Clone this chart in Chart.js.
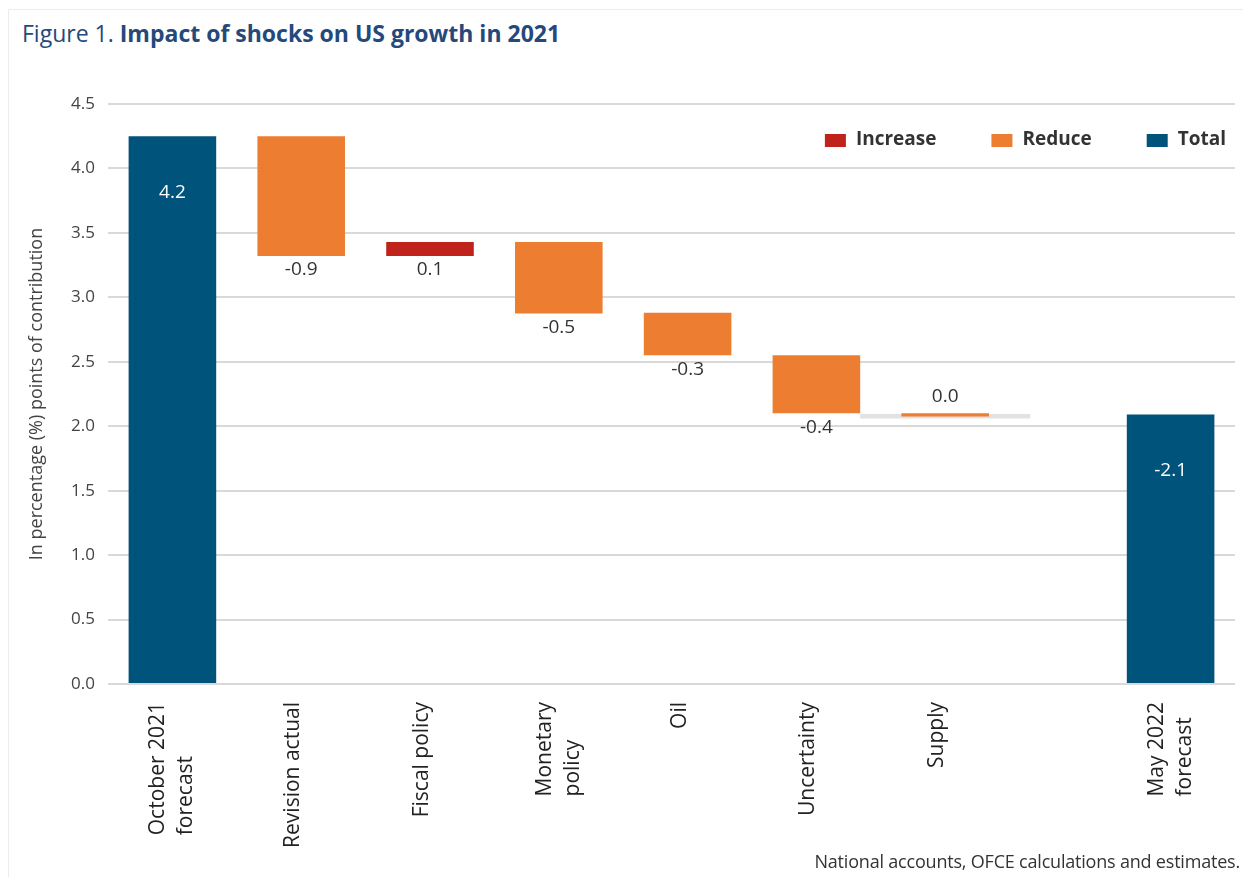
<!DOCTYPE html>
<html><head><meta charset="utf-8">
<script src="https://cdn.jsdelivr.net/npm/chart.js@4.4.1/dist/chart.umd.min.js"></script>
<style>
html,body{margin:0;padding:0;background:#fff;}
#wrap{position:relative;width:1243px;height:877px;overflow:hidden;background:#fff;}
#frame{position:absolute;left:8px;top:9px;width:1240px;height:880px;border:1px solid #ececec;box-sizing:border-box;}
#title{position:absolute;left:22px;top:17px;font-family:"Open Sans";font-size:23px;color:#24497a;white-space:nowrap;}
#title b{font-weight:700}
#source{position:absolute;right:3px;top:849px;font-family:"Open Sans";font-size:18px;color:#333;white-space:nowrap;letter-spacing:-0.2px;}
canvas{position:absolute;left:0;top:0;}
</style></head>
<body><div id="wrap"><div id="frame"></div>
<div id="title">Figure 1. <b>Impact of shocks on US growth in 2021</b></div>
<canvas id="c" width="1243" height="877"></canvas>
<div id="source">National accounts, OFCE calculations and estimates.</div></div>
<script>
const categories = [["October 2021","forecast"],"Revision actual","Fiscal policy",["Monetary","policy"],"Oil","Uncertainty","Supply",["May 2022","forecast"]];
const slots = [0,1,2,3,4,5,6,7.75];
const lows  = [0,    3.32, 3.32, 2.875, 2.55, 2.10, 2.075, 0];
const highs = [4.25, 4.25, 3.43, 3.43,  2.88, 2.55, 2.10,  2.09];
const kinds = ["Total","Reduce","Increase","Reduce","Reduce","Reduce","Reduce","Total"];
const valueLabels = ["4.2","-0.9","0.1","-0.5","-0.3","-0.4","0.0","-2.1"];
const seriesNames = ["Increase","Reduce","Total"];
const seriesColors = {Increase:"#c0231b", Reduce:"#ed7d31", Total:"#00537a"};
const guideSlots = [6];
const guideLows = [2.06];
const guideHighs = [2.095];
const yTickMin = 0, yTickMax = 4.5, yTickStep = 0.5;

const FONT = '"Open Sans", "Noto Sans", sans-serif';

const datasets = seriesNames.map(name => ({
  label: name,
  kind: name,
  data: slots.map((s,i) => kinds[i] === name ? {x:s, y:[lows[i], highs[i]], idx:i} : null).filter(Boolean),
  backgroundColor: seriesColors[name],
  grouped: false, categoryPercentage: 1, barPercentage: 0.68, borderWidth: 0, order: 1
}));
datasets.push({
  label: 'guide',
  data: guideSlots.map((s,k) => ({x:s, y:[guideLows[k], guideHighs[k]]})),
  backgroundColor: '#e2e2e2',
  grouped: false, categoryPercentage: 1, barPercentage: 1.32, borderWidth: 0, order: 10
});

const valuePlugin = {
  id: 'values',
  afterDatasetsDraw(chart) {
    const ctx = chart.ctx;
    chart.data.datasets.forEach((ds, di) => {
      if (!ds.kind) return;
      const meta = chart.getDatasetMeta(di);
      meta.data.forEach((el, j) => {
        const idx = ds.data[j].idx;
        const top = Math.min(el.y, el.base), bottom = Math.max(el.y, el.base);
        ctx.save();
        ctx.font = '19px ' + FONT;
        ctx.textAlign = 'center';
        ctx.textBaseline = 'middle';
        if (kinds[idx] === 'Total') {
          ctx.fillStyle = '#ffffff';
          ctx.fillText(valueLabels[idx], el.x, top + 56);
        } else if (Math.abs(highs[idx] - lows[idx]) < 0.05) {
          ctx.fillStyle = '#333';
          ctx.fillText(valueLabels[idx], el.x, top - 17);
        } else {
          ctx.fillStyle = '#333';
          ctx.fillText(valueLabels[idx], el.x, bottom + 14);
        }
        ctx.restore();
      });
    });
  }
};

const legendPlugin = {
  id: 'customLegend',
  afterDraw(chart) {
    const ctx = chart.ctx;
    const area = chart.chartArea;
    ctx.save();
    ctx.font = 'bold 19px ' + FONT;
    ctx.textBaseline = 'middle';
    ctx.textAlign = 'left';
    let x = area.right - 9;
    const yc = area.top + 36;
    for (let k = seriesNames.length - 1; k >= 0; k--) {
      const name = seriesNames[k];
      const w = ctx.measureText(name).width;
      x -= w;
      ctx.fillStyle = '#333';
      ctx.fillText(name, x, yc);
      x -= 10;
      ctx.fillStyle = seriesColors[name];
      ctx.fillRect(x - 21, yc - 6, 21, 13);
      x -= 21 + 55;
    }
    ctx.restore();
  }
};

const xLabelPlugin = {
  id: 'xLabels',
  afterDraw(chart) {
    const xs = chart.scales.x;
    const ctx = chart.ctx;
    const topY = chart.chartArea.bottom + 18;
    const lh = 28;
    ctx.save();
    ctx.font = '21px ' + FONT;
    ctx.fillStyle = '#222';
    ctx.textBaseline = 'middle';
    ctx.textAlign = 'left';
    categories.forEach((lab, i) => {
      const lines = Array.isArray(lab) ? lab : [lab];
      const px = xs.getPixelForValue(slots[i]) + (lines.length === 1 ? -8 : 0);
      const maxW = Math.max(...lines.map(l => ctx.measureText(l).width));
      lines.forEach((l, k) => {
        const cx = px + (k - (lines.length - 1) / 2) * lh;
        ctx.save();
        ctx.translate(cx, topY + maxW);
        ctx.rotate(-Math.PI / 2);
        ctx.fillText(l, 0, 0);
        ctx.restore();
      });
    });
    ctx.restore();
  }
};

new Chart(document.getElementById('c'), {
  type: 'bar',
  data: { datasets },
  options: {
    responsive: false,
    animation: false,
    layout: { padding: { top: 104, right: 8, left: 0, bottom: 0 } },
    plugins: { legend: { display: false }, tooltip: { enabled: false }, title: { display: false } },
    scales: {
      x: {
        type: 'linear', min: -0.5, max: 8.25, offset: false,
        grid: { display: false }, border: { display: false },
        afterBuildTicks: s => { s.ticks = slots.map(v => ({ value: v })); },
        ticks: { display: false, autoSkip: false, callback: (v, i) => categories[i] },
        afterFit: s => { s.height = 193; }
      },
      y: {
        min: yTickMin, max: yTickMax,
        ticks: { stepSize: yTickStep, padding: 13, color: '#444', font: { family: FONT, size: 17 }, callback: v => Number(v).toFixed(1) },
        grid: { color: '#d9d9d9', lineWidth: 2, drawTicks: false },
        border: { display: false },
        title: { display: true, text: 'In percentage (%) points of contribution', color: '#444', font: { family: FONT, size: 18 }, padding: { top: 26 } },
        afterFit: s => { s.width = 108; }
      }
    }
  },
  plugins: [valuePlugin, legendPlugin, xLabelPlugin]
});
</script>
</body></html>
